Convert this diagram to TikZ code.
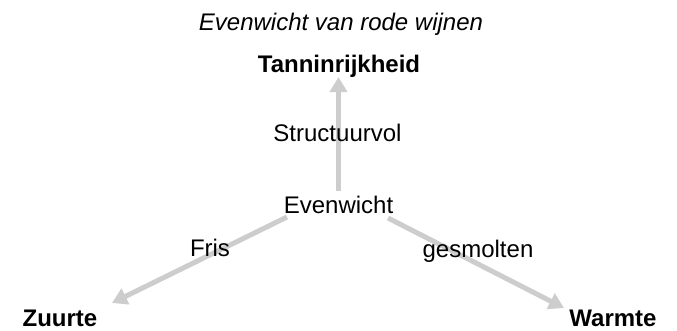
\documentclass[tikz,border=0pt]{standalone}
\usepackage{fontspec}
\setmainfont{Liberation Sans}
\usetikzlibrary{arrows.meta}
\definecolor{arrowgray}{RGB}{205,205,205}
\tikzset{
  lbl/.style={anchor=base, inner sep=0pt, font=\fontsize{24}{27}\selectfont},
  pole/.style={lbl, font=\fontsize{24}{27}\selectfont\bfseries},
  arr/.style={draw=arrowgray, line width=5pt, -{Triangle[width=17pt,length=15pt]}}
}
\begin{document}
\begin{tikzpicture}[x=1pt,y=-1pt]
\useasboundingbox (0,0) rectangle (677,330);
% arrow end points
\coordinate (cUp) at (338.5,191);
\coordinate (cTan) at (338.5,77);
\coordinate (cLeft) at (287,217);
\coordinate (cZuur) at (112,303);
\coordinate (cRight) at (388,218);
\coordinate (cWarm) at (564,308);
\draw[arr] (cUp) -- (cTan);
\draw[arr] (cLeft) -- (cZuur);
\draw[arr] (cRight) -- (cWarm);
% texts
\node[lbl, font=\fontsize{24}{27}\selectfont\itshape] (title) at (341,30) {Evenwicht van rode wijnen};
\node[pole] (tan) at (339,72) {Tanninrijkheid};
\node[lbl] (struct) at (337.5,141) {Structuurvol};
\node[lbl] (ev) at (338.5,213) {Evenwicht};
\node[lbl] (fris) at (210,256) {Fris};
\node[lbl] (gesm) at (478,257) {gesmolten};
\node[pole] (zuur) at (60,326) {Zuurte};
\node[pole] (warm) at (613,326) {Warmte};
\end{tikzpicture}
\end{document}
